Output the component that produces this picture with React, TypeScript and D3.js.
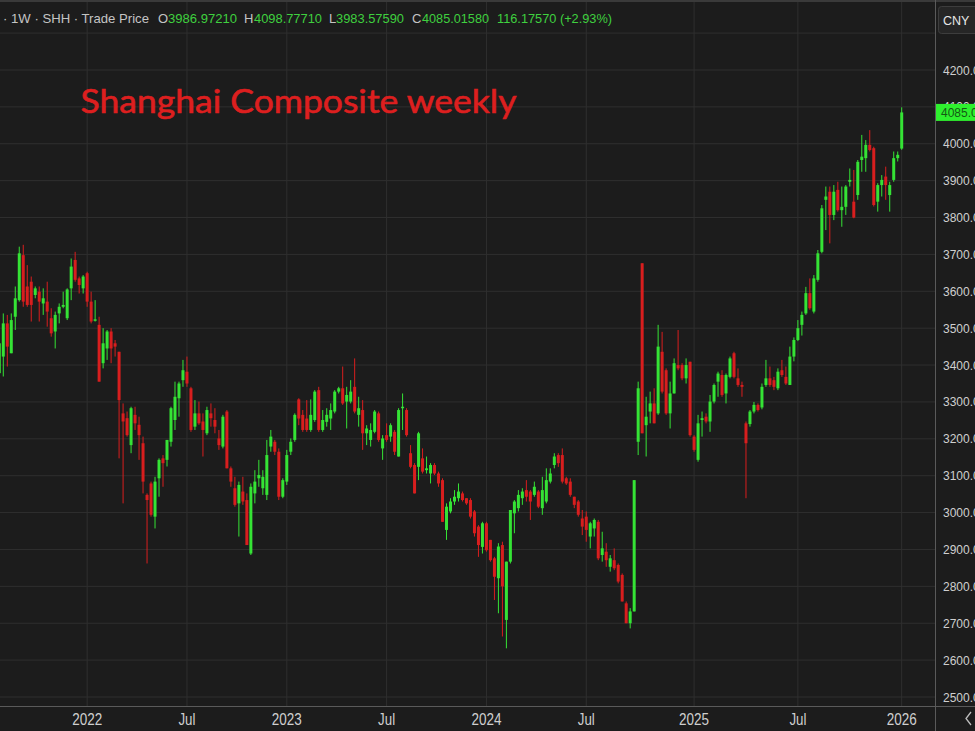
import React from "react";
import * as d3 from "d3";

// Weekly OHLC [open, high, low, close], Shanghai Composite, late Jul 2021 .. 9 Jan 2026
const ohlc2021: number[][] = [
  [3378, 3468, 3369, 3459], [3423, 3540, 3369, 3513], [3513, 3536, 3396, 3450], [3432, 3540, 3432, 3522],
  [3531, 3613, 3495, 3581], [3576, 3721, 3572, 3703], [3698, 3726, 3558, 3572], [3613, 3671, 3558, 3563],
  [3626, 3640, 3518, 3563], [3590, 3613, 3581, 3608], [3599, 3613, 3518, 3572], [3567, 3608, 3536, 3581],
  [3572, 3626, 3504, 3545], [3527, 3554, 3477, 3486], [3491, 3545, 3445, 3536], [3540, 3567, 3513, 3558],
  [3558, 3599, 3554, 3563], [3527, 3608, 3522, 3605], [3608, 3689, 3576, 3667], [3685, 3707, 3626, 3631],
  [3635, 3640, 3594, 3617], [3608, 3644, 3594, 3640],
];
const ohlc2022: number[][] = [
  [3649, 3653, 3558, 3572], [3572, 3599, 3513, 3518], [3520, 3576, 3518, 3524], [3509, 3531, 3355, 3355],
  [3405, 3500, 3391, 3459], [3445, 3495, 3414, 3491], [3491, 3500, 3405, 3445], [3459, 3468, 3423, 3450],
  [3436, 3436, 3147, 3305], [3269, 3296, 3025, 3247], [3256, 3274, 3206, 3210], [3183, 3287, 3161, 3283],
  [3265, 3287, 3224, 3242], [3238, 3260, 3143, 3210], [3188, 3206, 3052, 3084], [3048, 3052, 2862, 3034],
  [3079, 3084, 2989, 2994], [2989, 3097, 2957, 3084], [3093, 3147, 3043, 3143], [3147, 3156, 3070, 3134],
  [3143, 3197, 3125, 3197], [3192, 3287, 3179, 3283], [3251, 3355, 3224, 3314], [3310, 3355, 3260, 3350],
  [3359, 3414, 3341, 3386], [3382, 3423, 3341, 3350], [3337, 3341, 3219, 3224], [3233, 3305, 3224, 3269],
  [3269, 3301, 3238, 3242], [3247, 3269, 3152, 3224], [3215, 3287, 3210, 3278], [3269, 3296, 3233, 3256],
  [3251, 3283, 3215, 3233], [3201, 3224, 3170, 3183], [3179, 3265, 3174, 3260], [3274, 3278, 3120, 3120],
  [3120, 3125, 3070, 3084], [3066, 3097, 3016, 3021], [3025, 3084, 2935, 3075], [3057, 3097, 3021, 3030],
  [3034, 3052, 2912, 2912], [2889, 3079, 2885, 3070], [3052, 3115, 3025, 3084], [3093, 3143, 3070, 3102],
  [3066, 3115, 3048, 3097], [3048, 3197, 3034, 3156], [3179, 3224, 3165, 3206], [3192, 3197, 3156, 3165],
  [3165, 3174, 3034, 3043], [3043, 3093, 3039, 3088],
];
const ohlc2023: number[][] = [
  [3084, 3170, 3075, 3156], [3165, 3201, 3156, 3192], [3197, 3269, 3192, 3265], [3307, 3310, 3237, 3255],
  [3265, 3278, 3219, 3224], [3255, 3305, 3219, 3224], [3224, 3307, 3219, 3265], [3251, 3332, 3246, 3328],
  [3332, 3341, 3219, 3224], [3224, 3278, 3219, 3251], [3246, 3283, 3233, 3265], [3255, 3296, 3224, 3278],
  [3274, 3332, 3269, 3328], [3328, 3341, 3323, 3337], [3337, 3396, 3292, 3296], [3301, 3341, 3228, 3319],
  [3301, 3359, 3296, 3328], [3341, 3418, 3269, 3274], [3265, 3314, 3233, 3283], [3278, 3305, 3170, 3215],
  [3215, 3237, 3183, 3228], [3197, 3242, 3179, 3224], [3219, 3278, 3215, 3274], [3269, 3274, 3192, 3197],
  [3174, 3210, 3143, 3201], [3210, 3242, 3192, 3197], [3206, 3242, 3192, 3237], [3219, 3224, 3156, 3165],
  [3152, 3283, 3152, 3278], [3283, 3323, 3224, 3287], [3278, 3283, 3206, 3210], [3161, 3183, 3120, 3124],
  [3129, 3134, 3052, 3052], [3124, 3219, 3088, 3215], [3147, 3174, 3106, 3111], [3115, 3152, 3106, 3120],
  [3106, 3134, 3079, 3129], [3129, 3134, 3102, 3106], [3106, 3111, 3070, 3079], [3088, 3093, 2975, 2975],
  [2953, 3025, 2926, 3016], [3003, 3039, 2998, 3030], [3030, 3061, 3021, 3043], [3039, 3079, 3030, 3057],
  [3052, 3057, 3030, 3034], [3039, 3039, 3021, 3025], [3034, 3039, 2984, 2989], [3003, 3007, 2935, 2944],
  [2962, 2966, 2880, 2912], [2907, 2975, 2889, 2971],
];
const ohlc2024: number[][] = [
  [2971, 2975, 2894, 2898], [2926, 2926, 2867, 2871], [2876, 2880, 2763, 2826], [2822, 2917, 2727, 2908],
  [2912, 2921, 2664, 2800], [2709, 2867, 2632, 2867], [2867, 3007, 2862, 3007], [2998, 3034, 2944, 3030],
  [3012, 3061, 3003, 3048], [3039, 3066, 3021, 3057], [3061, 3088, 3030, 3043], [3057, 3061, 2980, 3030],
  [3048, 3084, 3043, 3070], [3057, 3061, 3012, 3016], [3012, 3097, 2994, 3061], [3030, 3120, 3025, 3088],
  [3084, 3120, 3079, 3106], [3129, 3161, 3120, 3152], [3156, 3161, 3124, 3134], [3156, 3174, 3079, 3084],
  [3093, 3097, 3075, 3079], [3084, 3093, 3043, 3048], [3043, 3043, 3012, 3021], [3030, 3034, 2989, 2994],
  [2984, 3007, 2939, 2962], [2989, 3003, 2921, 2953], [2935, 2975, 2903, 2971], [2957, 2984, 2935, 2980],
  [2975, 2980, 2871, 2876], [2885, 2948, 2867, 2903], [2894, 2917, 2853, 2871], [2853, 2885, 2840, 2876],
  [2871, 2903, 2844, 2849], [2858, 2862, 2808, 2813], [2831, 2835, 2759, 2759], [2754, 2759, 2700, 2700],
  [2700, 2741, 2686, 2732], [2732, 3088, 2732, 3088], [3192, 3355, 3156, 3337], [3676, 3676, 3215, 3215],
  [3237, 3314, 3152, 3260], [3274, 3328, 3242, 3296], [3296, 3337, 3242, 3242], [3269, 3509, 3265, 3450],
  [3436, 3490, 3323, 3328], [3386, 3391, 3265, 3269], [3269, 3355, 3228, 3323], [3323, 3418, 3323, 3405],
  [3400, 3495, 3386, 3391], [3400, 3405, 3359, 3364], [3364, 3418, 3350, 3400],
];
const ohlc2025: number[][] = [
  [3409, 3409, 3206, 3210], [3206, 3210, 3165, 3170], [3143, 3265, 3138, 3242], [3251, 3274, 3206, 3256],
  [3260, 3269, 3242, 3247], [3247, 3319, 3219, 3301], [3301, 3350, 3296, 3346], [3355, 3382, 3314, 3377],
  [3373, 3386, 3314, 3319], [3323, 3377, 3296, 3373], [3368, 3423, 3364, 3418], [3432, 3436, 3364, 3368],
  [3364, 3391, 3341, 3346], [3346, 3355, 3314, 3341], [3242, 3247, 3039, 3188], [3240, 3278, 3233, 3274],
  [3274, 3300, 3269, 3292], [3292, 3296, 3274, 3278], [3285, 3350, 3280, 3341], [3346, 3414, 3341, 3364],
  [3364, 3396, 3341, 3346], [3359, 3368, 3332, 3341], [3337, 3391, 3332, 3382], [3386, 3414, 3368, 3373],
  [3368, 3396, 3346, 3350], [3346, 3450, 3346, 3423], [3423, 3475, 3410, 3468], [3468, 3522, 3465, 3500],
  [3509, 3545, 3480, 3536], [3540, 3612, 3536, 3595], [3595, 3635, 3550, 3554], [3545, 3644, 3540, 3635],
  [3631, 3712, 3626, 3703], [3707, 3834, 3703, 3825], [3848, 3884, 3766, 3857], [3870, 3884, 3730, 3807],
  [3807, 3888, 3793, 3870], [3875, 3897, 3816, 3820], [3820, 3884, 3775, 3829], [3829, 3888, 3807, 3884],
  [3897, 3933, 3884, 3902], [3843, 3929, 3798, 3800], [3861, 3956, 3848, 3951], [3956, 4024, 3924, 3965],
  [3961, 4010, 3924, 3997], [3997, 4037, 3979, 3983], [3988, 3992, 3830, 3834], [3843, 3893, 3816, 3888],
  [3888, 3915, 3857, 3902], [3911, 3938, 3848, 3888], [3861, 3897, 3816, 3888], [3902, 3979, 3897, 3961],
  [3961, 3979, 3952, 3970],
];
const ohlc2026: number[][] = [[3986.9721, 4098.7771, 3983.5759, 4085.0158]];

// x-axis ticks: label and 1-based bar index of the first weekly bar of the period
const tickLabels = ["2022", "Jul", "2023", "Jul", "2024", "Jul", "2025", "Jul", "2026"];
const tickBars = [23, 48, 73, 98, 123, 148, 175, 201, 227];

// price axis
const priceTicks = [2500, 2600, 2700, 2800, 2900, 3000, 3100, 3200, 3300, 3400, 3500, 3600, 3700, 3800, 3900, 4000, 4100, 4200];
const gridPrices = [...priceTicks, 4300];

// header
const headerLabel = "· 1W · SHH · Trade Price";
const headerFields = [
  { k: "O", v: "3986.97210" },
  { k: "H", v: "4098.77710" },
  { k: "L", v: "3983.57590" },
  { k: "C", v: "4085.01580" },
];
const headerChange = "116.17570 (+2.93%)";
const lastPriceLabel = "4085.02";

const W = 975;
const H = 731;
const PLOT_R = 935;
const AXIS_Y = 706;
const BG = "#1c1c1c";
const GRID = "#2f2f2f";
const UP = "#35e335";
const DOWN = "#d81e1e";
const TXT = "#cfcfcf";
const HDR_GREEN = "#3fd03f";

export default function App() {
  const bars = [...ohlc2021, ...ohlc2022, ...ohlc2023, ...ohlc2024, ...ohlc2025, ...ohlc2026];
  const n = bars.length;
  const x = d3.scaleLinear().domain([1, n]).range([-0.7, 901.7]);
  const y = d3.scaleLinear().domain([2500, 4200]).range([697, 70]);
  const bodyW = 3;

  const hdrPos = [
    { kx: 158, vx: 168, vw: 69 },
    { kx: 244, vx: 254, vw: 68 },
    { kx: 329, vx: 336, vw: 68 },
    { kx: 412, vx: 422, vw: 67 },
  ];
  const last = bars[n - 1];
  const tagY = y(last[3]);

  return (
    <svg
      width={W}
      height={H}
      viewBox={`0 0 ${W} ${H}`}
      style={{ position: "fixed", left: 0, top: 0, display: "block" }}
      fontFamily="'Liberation Sans', Arial, sans-serif"
    >
      <rect x={0} y={0} width={W} height={H} fill={BG} />
      <clipPath id="plotClip">
        <rect x={0} y={0} width={PLOT_R} height={AXIS_Y} />
      </clipPath>

      {/* grid */}
      <g>
        {gridPrices.map((p) => (
          <line key={"h" + p} x1={0} x2={PLOT_R} y1={y(p)} y2={y(p)} stroke={GRID} strokeWidth={1} />
        ))}
        {tickBars.map((b, i) => (
          <line key={"v" + i} x1={x(b)} x2={x(b)} y1={0} y2={AXIS_Y} stroke={GRID} strokeWidth={1} />
        ))}
      </g>

      {/* top border */}
      <rect x={0} y={0} width={W} height={2} fill="#3a3a3a" />

      {/* candles */}
      <g clipPath="url(#plotClip)">
        {bars.map((d, i) => {
          const [o, h, l, c] = d;
          const cx = x(i + 1);
          const col = c >= o ? UP : DOWN;
          const top = y(Math.max(o, c));
          const bot = y(Math.min(o, c));
          return (
            <g key={i}>
              <line x1={cx} x2={cx} y1={y(h)} y2={y(l)} stroke={col} strokeWidth={1} />
              <rect x={cx - bodyW / 2} y={top} width={bodyW} height={Math.max(1, bot - top)} fill={col} />
            </g>
          );
        })}
      </g>

      {/* title */}
      <text
        x={80.5}
        y={112.5}
        fontFamily="Lato, 'Open Sans', sans-serif"
        fontSize={32}
        fill="#dd1f1f"
        stroke="#dd1f1f"
        strokeWidth={0.6}
        textLength={436}
        lengthAdjust="spacingAndGlyphs"
      >
        Shanghai Composite weekly
      </text>

      {/* header */}
      <g fontSize={13}>
        <text x={3} y={23} fill="#c4c4c4" textLength={146} lengthAdjust="spacingAndGlyphs">{headerLabel}</text>
        {headerFields.map((f, i) => (
          <g key={f.k}>
            <text x={hdrPos[i].kx} y={23} fill="#c4c4c4">{f.k}</text>
            <text x={hdrPos[i].vx} y={23} fill={HDR_GREEN} textLength={hdrPos[i].vw} lengthAdjust="spacingAndGlyphs">{f.v}</text>
          </g>
        ))}
        <text x={497} y={23} fill={HDR_GREEN} textLength={115} lengthAdjust="spacingAndGlyphs">{headerChange}</text>
      </g>

      {/* axes separators */}
      <line x1={PLOT_R + 0.5} x2={PLOT_R + 0.5} y1={0} y2={H} stroke="#5a5a5a" strokeWidth={1} />
      <line x1={0} x2={W} y1={AXIS_Y + 0.5} y2={AXIS_Y + 0.5} stroke="#5a5a5a" strokeWidth={1} />

      {/* price axis labels */}
      <g fontSize={12} fill={TXT}>
        {priceTicks.map((p) => (
          <text key={p} x={943} y={y(p) + 4.5}>{p.toFixed(2)}</text>
        ))}
      </g>

      {/* last price tag */}
      <rect x={PLOT_R + 1} y={tagY - 8.5} width={W - PLOT_R - 1} height={17} fill="#2ef02e" />
      <text x={941} y={tagY + 4.5} fontSize={12} fill="#145a14">{lastPriceLabel}</text>

      {/* CNY box */}
      <rect x={938.5} y={6.5} width={40} height={27} rx={3} fill="#262626" stroke="#3d3d3d" />
      <text x={943} y={25} fontSize={12.5} fill="#e6e6e6">CNY</text>

      {/* time axis labels */}
      <g fontSize={16} fill={TXT} textAnchor="middle">
        {tickBars.map((b, i) => (
          <text key={i} x={x(b)} y={724.5} textLength={tickLabels[i].length === 4 ? 30 : 17} lengthAdjust="spacingAndGlyphs">
            {tickLabels[i]}
          </text>
        ))}
      </g>

      {/* scroll chevron */}
      <path d="M971,712 L966,718.5 L971,725" fill="none" stroke="#bdbdbd" strokeWidth={1.3} />
    </svg>
  );
}
